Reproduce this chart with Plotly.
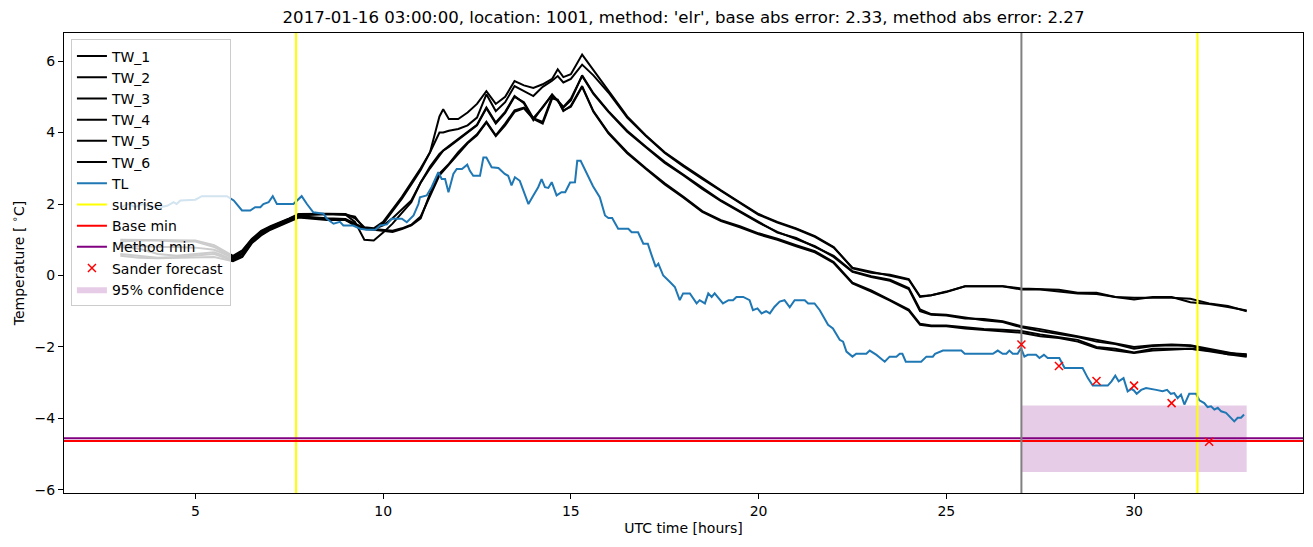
import plotly.graph_objects as go

# ---------------- data ----------------
tw_hours = [3, 3.5, 4, 4.5, 5, 5.5, 6, 6.25, 6.5, 6.75, 7, 7.5, 7.75, 8.5, 9, 9.25, 9.5, 9.75, 10,
            10.25, 10.5, 10.75, 11, 11.25, 11.5, 11.6, 11.75, 12, 12.25, 12.5, 12.75, 13, 13.25, 13.5,
            13.75, 14, 14.25, 14.5, 14.65, 14.8, 15, 15.3, 15.6, 16, 16.5, 17, 17.5, 18, 18.5, 19,
            19.5, 20, 20.5, 21, 21.5, 22, 22.5, 23, 23.5, 24, 24.3, 24.6, 25, 25.5, 26, 26.5, 27,
            27.5, 28, 28.5, 29, 29.5, 30, 30.5, 31, 31.5, 32, 32.5, 33]

tw_1 = [1.0, 1.0, 1.0, 1.0, 0.98, 0.85, 0.55, 0.7, 1.02, 1.25, 1.38, 1.6, 1.72, 1.73, 1.72,
        1.6, 1.35, 1.32, 1.5, 1.85, 2.2, 2.6, 3.0, 3.45, 4.45, 4.65, 4.38, 4.38, 4.56, 4.8, 5.16,
        4.8, 5.0, 5.44, 5.32, 5.25, 5.35, 5.5, 5.77, 5.55, 5.63, 6.18, 5.75, 5.15, 4.45, 3.92, 3.45,
        3.08, 2.72, 2.38, 2.05, 1.72, 1.5, 1.32, 1.1, 0.8, 0.2, 0.08, 0.02, -0.1, -0.58, -0.55,
        -0.46, -0.3, -0.3, -0.3, -0.36, -0.39, -0.4, -0.48, -0.48, -0.6, -0.67, -0.6, -0.6, -0.75,
        -0.8, -0.88, -0.98]
tw_2 = [0.95, 0.98, 0.98, 0.95, 0.95, 0.8, 0.5, 0.68, 1.0, 1.22, 1.36, 1.58, 1.7, 1.72, 1.7,
        1.65, 1.3, 1.3, 1.45, 1.8, 2.15, 2.55, 2.95, 3.45, 4.0, 4.0, 4.05, 4.1, 4.2, 4.42, 5.07,
        4.6, 4.85, 5.3, 5.16, 5.02, 5.28, 5.45, 5.58, 5.4, 5.5, 5.9, 5.6, 5.12, 4.42, 3.9, 3.43,
        3.05, 2.7, 2.36, 2.02, 1.7, 1.48, 1.3, 1.08, 0.78, 0.22, 0.1, 0.0, -0.12, -0.6, -0.55,
        -0.45, -0.3, -0.3, -0.3, -0.39, -0.39, -0.45, -0.5, -0.52, -0.6, -0.62, -0.62, -0.62, -0.65,
        -0.78, -0.85, -1.0]
tw_3 = [0.85, 0.82, 0.8, 0.8, 0.78, 0.72, 0.5, 0.62, 0.98, 1.2, 1.35, 1.57, 1.68, 1.72, 1.7,
        1.5, 1.0, 0.98, 1.2, 1.45, 1.75, 2.05, 2.6, 3.0, 3.35, 3.49, 3.6, 3.8, 3.98, 4.2, 4.68,
        4.25, 4.55, 5.0, 4.85, 4.4, 4.7, 5.07, 4.88, 4.7, 4.9, 5.6, 5.1, 4.6, 4.05, 3.6, 3.18,
        2.82, 2.45, 2.1, 1.8, 1.5, 1.2, 1.05, 0.8, 0.55, 0.12, -0.02, -0.12, -0.35, -0.95, -1.08,
        -1.1, -1.18, -1.25, -1.3, -1.45, -1.55, -1.63, -1.72, -1.85, -1.92, -2.05, -1.97, -1.95,
        -1.97, -2.08, -2.2, -2.27]
tw_4 = [0.8, 0.75, 0.6, 0.55, 0.6, 0.65, 0.45, 0.6, 0.95, 1.18, 1.33, 1.55, 1.66, 1.6, 1.58,
        1.45, 1.3, 1.3, 1.4, 1.6, 1.85, 2.1, 2.6, 3.05, 3.4, 3.5, 3.62, 3.82, 4.0, 4.22, 4.7,
        4.28, 4.58, 5.02, 4.82, 4.35, 4.72, 5.05, 4.9, 4.72, 4.95, 5.58, 5.08, 4.58, 4.02, 3.58,
        3.15, 2.8, 2.42, 2.08, 1.78, 1.48, 1.22, 1.02, 0.82, 0.52, 0.1, -0.04, -0.15, -0.38, -1.0,
        -1.1, -1.12, -1.2, -1.22, -1.28, -1.42, -1.5, -1.6, -1.7, -1.8, -1.9, -2.0, -1.95, -1.93,
        -1.95, -2.05, -2.15, -2.25]
tw_5 = [0.6, 0.55, 0.5, 0.52, 0.55, 0.6, 0.42, 0.55, 0.92, 1.15, 1.3, 1.52, 1.64, 1.58, 1.55,
        1.4, 1.3, 1.28, 1.25, 1.22, 1.3, 1.4, 1.6, 2.3, 2.85, 2.95, 3.12, 3.45, 3.72, 3.95, 4.3,
        3.92, 4.25, 4.62, 4.7, 4.4, 4.3, 5.0, 4.9, 4.6, 4.75, 5.3, 4.6, 4.0, 3.45, 3.0, 2.58,
        2.2, 1.8, 1.55, 1.38, 1.18, 1.03, 0.85, 0.68, 0.38, -0.2, -0.42, -0.68, -0.95, -1.35, -1.4,
        -1.4, -1.45, -1.5, -1.52, -1.55, -1.65, -1.72, -1.8, -2.0, -2.05, -2.15, -2.05, -2.05,
        -2.05, -2.1, -2.17, -2.2]
tw_6 = [0.55, 0.5, 0.48, 0.5, 0.5, 0.52, 0.4, 0.52, 0.9, 1.12, 1.28, 1.5, 1.62, 1.55, 1.55,
        1.45, 1.32, 1.3, 1.28, 1.25, 1.32, 1.42, 1.65, 2.25, 2.8, 2.92, 3.1, 3.42, 3.7, 3.92, 4.28,
        3.9, 4.2, 4.58, 4.68, 4.38, 4.25, 4.95, 4.92, 4.62, 4.72, 5.28, 4.58, 3.98, 3.42, 2.98, 2.55,
        2.18, 1.78, 1.52, 1.35, 1.15, 1.0, 0.82, 0.65, 0.35, -0.22, -0.45, -0.7, -0.98, -1.38, -1.42,
        -1.42, -1.48, -1.52, -1.55, -1.6, -1.7, -1.75, -1.85, -2.03, -2.1, -2.17, -2.1, -2.07,
        -2.05, -2.12, -2.2, -2.22]

tl_hours = [3.0, 3.2, 3.4, 3.6, 3.8, 4.06, 4.25, 4.42, 4.5, 4.6, 5.0, 5.17, 5.84, 6.02, 6.24,
            6.46, 6.59, 6.73, 6.81, 6.95, 7.06, 7.17, 7.61, 7.83, 7.97, 8.14, 8.41, 8.5, 8.68,
            8.85, 8.94, 9.2, 9.39, 9.56, 9.79, 9.92, 10.1, 10.23, 10.5, 10.63, 10.81, 10.94,
            10.98, 11.16, 11.29, 11.38, 11.47, 11.56, 11.65, 11.74, 11.87, 11.96, 12.1, 12.24,
            12.31, 12.4, 12.58, 12.67, 12.75, 12.89, 13.07, 13.24, 13.33, 13.42, 13.51, 13.64,
            13.87, 14.0, 14.13, 14.22, 14.31, 14.4, 14.49, 14.62, 14.75, 14.85, 14.98, 15.11,
            15.17, 15.26, 15.42, 15.59, 15.77, 15.91, 16.0, 16.1, 16.26, 16.53, 16.62, 16.79,
            16.93, 17.05, 17.15, 17.26, 17.33, 17.46, 17.64, 17.77, 17.9, 17.99, 18.17, 18.35,
            18.43, 18.57, 18.66, 18.75, 18.83, 18.97, 19.05, 19.2, 19.32, 19.41, 19.59, 19.76,
            19.85, 19.97, 20.08, 20.2, 20.3, 20.42, 20.56, 20.69, 20.83, 20.96, 21.23, 21.32,
            21.49, 21.63, 21.85, 21.98, 22.16, 22.25, 22.34, 22.5, 22.6, 22.87, 22.96, 23.14,
            23.36, 23.49, 23.67, 23.76, 23.83, 23.92, 24.33, 24.47, 24.64, 24.7, 24.91, 25.4,
            25.49, 26.24, 26.37, 26.5, 26.6, 26.68, 26.77, 26.9, 26.99, 27.08, 27.17, 27.39,
            27.48, 27.6, 27.7, 28.01, 28.15, 28.63, 28.77, 28.9, 29.3, 29.4, 29.5, 29.59, 29.72,
            29.83, 29.93, 30.0, 30.07, 30.19, 30.32, 30.59, 30.76, 30.88, 30.98, 31.07, 31.16,
            31.25, 31.34, 31.47, 31.65, 31.74, 31.87, 31.96, 32.05, 32.14, 32.23, 32.32, 32.45,
            32.67, 32.76, 32.85, 32.93]
tl_values = [1.9, 2.0, 1.92, 2.0, 1.92, 1.91, 1.95, 2.05, 2.0, 2.1, 2.12, 2.22, 2.22, 2.1, 1.82,
             1.82, 1.91, 1.91, 2.0, 2.05, 2.22, 2.0, 2.0, 2.22, 2.0, 1.77, 1.73, 1.59, 1.45,
             1.5, 1.4, 1.4, 1.31, 1.28, 1.28, 1.4, 1.43, 1.59, 1.59, 1.49, 1.68, 2.0,
             2.19, 2.24, 2.47, 2.7, 2.89, 2.7, 2.7, 2.33, 2.84, 2.98, 2.98, 3.1,
             2.93, 2.79, 2.79, 3.3, 3.3, 3.03, 3.01, 2.84, 2.79, 2.52, 2.75, 2.65,
             2.0, 2.24, 2.47, 2.7, 2.47, 2.45, 2.61, 2.24, 2.33, 2.33, 2.6, 2.61,
             3.21, 3.21, 2.85, 2.5, 2.19, 1.68, 1.61, 1.61, 1.31, 1.31, 1.21, 1.21,
             0.89, 0.89, 0.57, 0.24, 0.33, 0.0, -0.18, -0.32, -0.69, -0.5, -0.5, -0.78,
             -0.69, -0.78, -0.5, -0.6, -0.5, -0.69, -0.78, -0.69, -0.69, -0.6, -0.6, -0.69,
             -0.97, -0.92, -1.06, -1.0, -1.06, -0.88, -0.73, -0.69, -0.89, -0.69, -0.69, -0.78,
             -0.78, -0.97, -1.38, -1.48, -1.8, -1.85, -2.13, -2.27, -2.19, -2.19, -2.1, -2.22,
             -2.41, -2.27, -2.27, -2.19, -2.19, -2.41, -2.41, -2.27, -2.27, -2.19, -2.1, -2.1,
             -2.19, -2.19, -2.1, -2.19, -2.19, -2.1, -2.19, -2.19, -2.03, -2.27, -2.22, -2.22,
             -2.31, -2.22, -2.31, -2.31, -2.59, -2.59, -2.87, -3.08, -3.08, -2.96, -2.8, -2.96, -2.87,
             -3.24, -3.17, -3.22, -3.31, -3.2, -3.15, -3.2, -3.24, -3.2, -3.31, -3.29, -3.43,
             -3.33, -3.61, -3.31, -3.31, -3.49, -3.57, -3.68, -3.66, -3.75, -3.7, -3.8, -3.84,
             -4.08, -3.98, -3.98, -3.89]

sunrise_hours = [7.68, 31.69]
forecast_hour = 27.0
base_min = -4.63
method_min = -4.55
sander_hours = [27, 28, 29, 30, 31, 32]
sander_values = [-1.93, -2.53, -2.95, -3.08, -3.57, -4.65]
conf_start, conf_end = 27.0, 33.0
conf_low, conf_high = -5.5, -3.64

x_range = [1.5, 34.5]
y_range = [-6.085, 6.785]

title = ("2017-01-16 03:00:00, location: 1001, method: 'elr', "
         "base abs error: 2.33, method abs error: 2.27")

# ---------------- figure ----------------
FONT = "DejaVu Sans"
fig = go.Figure()

# confidence box (drawn below the lines)
fig.add_trace(go.Scatter(
    x=[conf_start, conf_end, conf_end, conf_start, conf_start],
    y=[conf_high, conf_high, conf_low, conf_low, conf_high],
    mode="lines", fill="toself", fillcolor="rgba(128,0,128,0.2)",
    line=dict(width=0, color="rgba(128,0,128,0.2)"),
    name="95% confidence", legendrank=12))

tw_series = [tw_1, tw_2, tw_3, tw_4, tw_5, tw_6]
for i, vals in enumerate(tw_series):
    fig.add_trace(go.Scatter(
        x=tw_hours, y=vals, mode="lines", line=dict(color="black", width=2),
        name=f"TW_{i + 1}", legendrank=i + 1))

fig.add_trace(go.Scatter(
    x=tl_hours, y=tl_values, mode="lines", line=dict(color="#1f77b4", width=2),
    name="TL", legendrank=7))

sx, sy = [], []
for h in sunrise_hours:
    sx += [h, h, None]
    sy += [y_range[0], y_range[1], None]
fig.add_trace(go.Scatter(x=sx, y=sy, mode="lines", line=dict(color="#ffff00", width=2),
                         name="sunrise", legendrank=8))

fig.add_trace(go.Scatter(x=x_range, y=[base_min, base_min], mode="lines",
                         line=dict(color="red", width=2), name="Base min", legendrank=9))
fig.add_trace(go.Scatter(x=x_range, y=[method_min, method_min], mode="lines",
                         line=dict(color="purple", width=2), name="Method min", legendrank=10))

fig.add_trace(go.Scatter(x=[forecast_hour, forecast_hour], y=y_range, mode="lines",
                         line=dict(color="gray", width=2), showlegend=False))

fig.add_trace(go.Scatter(
    x=sander_hours, y=sander_values, mode="markers",
    marker=dict(symbol="x-thin", size=8, line=dict(color="red", width=1.5), color="red"),
    name="Sander forecast", legendrank=11))

axis_common = dict(showline=True, mirror=True, linecolor="black", linewidth=1,
                   ticks="outside", ticklen=5, tickcolor="black", showgrid=False,
                   zeroline=False, tickfont=dict(family=FONT, size=14, color="black"))

fig.update_layout(
    width=1313, height=547,
    margin=dict(l=64, r=10, t=33, b=54),
    plot_bgcolor="white", paper_bgcolor="white",
    font=dict(family=FONT, size=14, color="black"),
    title=dict(text=title, x=(64 + 1303) / 2 / 1313, xanchor="center",
               y=1 - 17 / 547, yanchor="middle", yref="container",
               font=dict(family=FONT, size=16.6, color="black")),
    xaxis=dict(range=x_range, tickvals=[5, 10, 15, 20, 25, 30],
               title=dict(text="UTC time [hours]", font=dict(family=FONT, size=14), standoff=5),
               **axis_common),
    yaxis=dict(range=y_range, tickvals=[-6, -4, -2, 0, 2, 4, 6],
               title=dict(text="Temperature [ <sup>∘</sup>C]", font=dict(family=FONT, size=14),
                          standoff=6),
               **axis_common),
    legend=dict(x=0.0056, y=0.986, xanchor="left", yanchor="top",
                bgcolor="rgba(255,255,255,0.8)", bordercolor="#cccccc", borderwidth=1,
                font=dict(family=FONT, size=14, color="black"), tracegroupgap=0,
                itemwidth=30),
    showlegend=True,
)

fig.write_html("out.html")
